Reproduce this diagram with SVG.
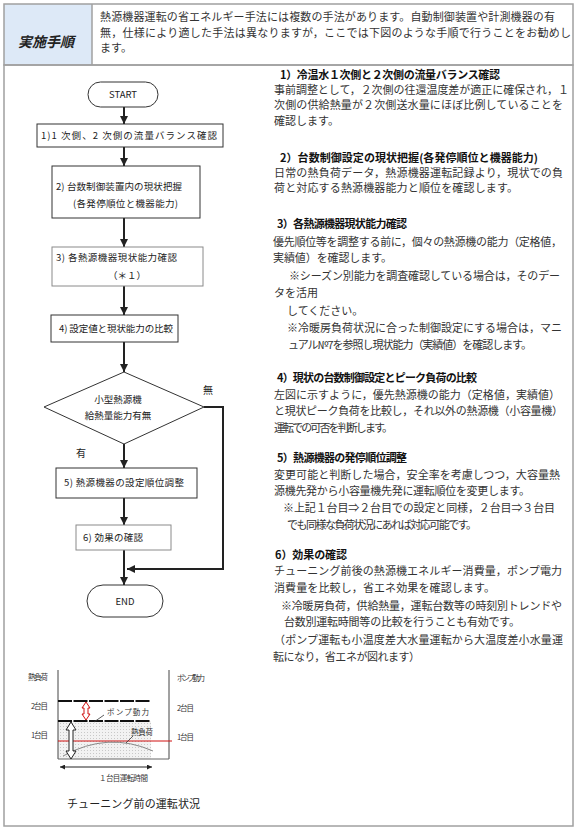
<svg xmlns="http://www.w3.org/2000/svg" width="580" height="831" viewBox="0 0 580 831">
<defs>
<style>
.t{font-family:"Noto Sans CJK JP","Noto Sans",sans-serif;fill:#222}
.b{font-size:11px;fill:#333}
.h{font-size:11px;font-weight:bold;fill:#111}
.f{font-size:9.5px;fill:#222}
.c{font-size:7.5px;fill:#333}
.box{fill:#fff;stroke:#333;stroke-width:1}
.boxl{fill:#fff;stroke:#8a8a8a;stroke-width:1}
.conn{stroke:#222;stroke-width:2;fill:none}
.frame{fill:none;stroke:#a0a0a0;stroke-width:1.5}
.dash{stroke:#111;stroke-width:2;stroke-dasharray:14 1.5;fill:none}
</style>
<marker id="ah" viewBox="0 0 10 10" refX="10" refY="5" markerWidth="8" markerHeight="8" markerUnits="userSpaceOnUse" orient="auto">
<path d="M0,0 L10,5 L0,10 z" fill="#222"/>
</marker>
<marker id="sa" viewBox="0 0 10 10" refX="10" refY="5" markerWidth="5" markerHeight="5" markerUnits="userSpaceOnUse" orient="auto-start-reverse">
<path d="M0,0 L10,5 L0,10 z" fill="#222"/>
</marker>
<pattern id="dots" width="3" height="3" patternUnits="userSpaceOnUse">
<rect width="3" height="3" fill="#f2f2f2"/>
<rect x="0" y="0" width="1" height="1" fill="#c8c8c8"/>
</pattern>
</defs>
<rect width="580" height="831" fill="#fff"/>

<!-- header -->
<g id="header">
<rect x="4" y="4" width="88" height="61" fill="#dde9f7"/>
<rect x="4" y="4" width="569" height="61" class="frame"/>
<line x1="92" y1="4" x2="92" y2="65" class="frame"/>
<text class="t" x="18" y="47" font-size="14" font-weight="bold" font-style="italic" fill="#111" textLength="56">実施手順</text>
<text class="t b" x="100" y="21" textLength="455" fill="#222">熱源機器運転の省エネルギー手法には複数の手法があります。自動制御装置や計測機器の有</text>
<text class="t b" x="100" y="37" textLength="471" fill="#222">無，仕様により適した手法は異なりますが，ここでは下図のような手順で行うことをお勧めし</text>
<text class="t b" x="100" y="52" fill="#222">ます。</text>
</g>
<rect x="4" y="65" width="569" height="761" class="frame"/>

<!-- connectors -->
<g id="connectors">
<line x1="124" y1="107" x2="124" y2="124" class="conn" marker-end="url(#ah)"/>
<line x1="124" y1="147" x2="124" y2="166" class="conn" marker-end="url(#ah)"/>
<line x1="124" y1="218" x2="124" y2="247" class="conn" marker-end="url(#ah)"/>
<line x1="124" y1="286" x2="124" y2="315" class="conn" marker-end="url(#ah)"/>
<line x1="124" y1="342" x2="124" y2="372" class="conn" marker-end="url(#ah)"/>
<line x1="124" y1="444" x2="124" y2="468" class="conn" marker-end="url(#ah)"/>
<line x1="124" y1="498" x2="124" y2="525" class="conn" marker-end="url(#ah)"/>
<line x1="124" y1="550" x2="124" y2="585" class="conn" marker-end="url(#ah)"/>
<polyline points="204,407 223,407 223,569 127,569" class="conn" marker-end="url(#ah)"/>
<text class="t" x="203" y="394" font-size="10" fill="#444">無</text>
<text class="t" x="76" y="457" font-size="10" fill="#444">有</text>
</g>

<!-- nodes -->
<g id="start">
<rect x="88" y="82" width="70" height="25" rx="12.5" class="box"/>
<text class="t f" x="123" y="98" text-anchor="middle">START</text>
</g>
<g id="step1">
<rect x="37" y="124" width="186" height="23" class="box"/>
<text class="t f" x="41" y="139" textLength="176">1)1 次側、2 次側の流量バランス確認</text>
</g>
<g id="step2">
<rect x="52" y="166" width="148" height="52" class="box"/>
<text class="t f" x="56" y="190" textLength="126">2) 台数制御装置内の現状把握</text>
<text class="t f" x="73" y="207" textLength="105">(各発停順位と機器能力)</text>
</g>
<g id="step3">
<rect x="52" y="247" width="151" height="39" class="boxl"/>
<text class="t f" x="56" y="261" textLength="121">3) 各熱源機器現状能力確認</text>
<text class="t f" x="127" y="279" text-anchor="middle">（＊１）</text>
</g>
<g id="step4">
<rect x="51" y="315" width="127" height="27" class="box"/>
<text class="t f" x="59" y="332" textLength="114">4) 設定値と現状能力の比較</text>
</g>
<g id="decision">
<polygon points="124,372 204,407 124,444 44,407" class="box"/>
<text class="t f" x="118" y="403" text-anchor="middle">小型熱源機</text>
<text class="t f" x="118" y="419" text-anchor="middle">給熱量能力有無</text>
</g>
<g id="step5">
<rect x="56" y="468" width="141" height="30" class="box"/>
<text class="t f" x="64" y="486" textLength="120">5) 熱源機器の設定順位調整</text>
</g>
<g id="step6">
<rect x="76" y="525" width="95" height="25" class="boxl"/>
<text class="t f" x="83" y="541" textLength="60">6) 効果の確認</text>
</g>
<g id="end">
<rect x="87" y="585" width="76" height="32" rx="16" class="box"/>
<text class="t f" x="125" y="605" text-anchor="middle">END</text>
</g>

<!-- chart -->
<g id="chart">
<rect x="58" y="721" width="93" height="38" fill="url(#dots)"/>
<line x1="58" y1="670" x2="58" y2="759" stroke="#444" stroke-width="1"/>
<line x1="169" y1="670" x2="169" y2="759" stroke="#444" stroke-width="1"/>
<line x1="58" y1="759" x2="169" y2="759" stroke="#666" stroke-width="1"/>
<line x1="58" y1="701" x2="151" y2="701" class="dash"/>
<line x1="58" y1="721" x2="151" y2="721" class="dash"/>
<line x1="58" y1="741" x2="172" y2="741" stroke="#d01010" stroke-width="1"/>
<path d="M63,756 Q108,731 153,751" fill="none" stroke="#888" stroke-width="1"/>
<polygon points="86,702 90,708 88,708 88,714 90,714 86,720 82,714 84,714 84,708 82,708" fill="#fff" stroke="#d01010" stroke-width="1"/>
<polygon points="71,722 76,730 73,730 73,751 76,751 71,759 66,751 69,751 69,730 66,730" fill="#fff" stroke="#222" stroke-width="1"/>
<line x1="94" y1="722" x2="104" y2="715" stroke="#333" stroke-width="0.8"/>
<line x1="126" y1="743" x2="133" y2="736" stroke="#333" stroke-width="0.8"/>
<line x1="60" y1="767" x2="152" y2="767" stroke="#222" stroke-width="1" marker-start="url(#sa)" marker-end="url(#sa)"/>
<text class="t c" x="28" y="680" textLength="20">熱負荷</text>
<text class="t c" x="31" y="709" textLength="17">2台目</text>
<text class="t c" x="31" y="738" textLength="17">1台目</text>
<text class="t c" x="107" y="715" font-size="8.5" textLength="42">ポンプ動力</text>
<text class="t c" x="131" y="735" font-size="8.5" textLength="22">熱負荷</text>
<text class="t c" x="177" y="681" textLength="28">ポンプ動力</text>
<text class="t c" x="177" y="711" textLength="17">2台目</text>
<text class="t c" x="177" y="740" textLength="17">1台目</text>
<text class="t c" x="99" y="781" textLength="49">１台目運転時間</text>
<text class="t" x="67" y="808" font-size="11" fill="#222" textLength="133">チューニング前の運転状況</text>
</g>

<!-- right text -->
<g id="description">
<text class="t h" x="280" y="79" textLength="220">1）冷温水１次側と２次側の流量バランス確認</text>
<text class="t b" x="274" y="94" textLength="295">事前調整として，２次側の往還温度差が適正に確保され，１</text>
<text class="t b" x="274" y="109" textLength="289">次側の供給熱量が２次側送水量にほぼ比例していることを</text>
<text class="t b" x="274" y="125">確認します。</text>

<text class="t h" x="280" y="162" textLength="258">2）台数制御設定の現状把握(各発停順位と機器能力)</text>
<text class="t b" x="274" y="177" textLength="289">日常の熱負荷データ，熱源機器運転記録より，現状での負</text>
<text class="t b" x="274" y="192" textLength="244">荷と対応する熱源機器能力と順位を確認します。</text>

<text class="t h" x="277" y="228" textLength="130">3）各熱源機器現状能力確認</text>
<text class="t b" x="273" y="246" textLength="289">優先順位等を調整する前に，個々の熱源機の能力（定格値，</text>
<text class="t b" x="273" y="262" textLength="119">実績値）を確認します。</text>
<text class="t b" x="289" y="280" textLength="271">※シーズン別能力を調査確認している場合は，そのデー</text>
<text class="t b" x="274" y="297">タを活用</text>
<text class="t b" x="287" y="315">してください。</text>
<text class="t b" x="287" y="332" textLength="275">※冷暖房負荷状況に合った制御設定にする場合は，マニ</text>
<text class="t b" x="288" y="349" textLength="244">ュアル№7を参照し現状能力（実績値）を確認します。</text>

<text class="t h" x="277" y="382" textLength="200">4）現状の台数制御設定とピーク負荷の比較</text>
<text class="t b" x="274" y="399" textLength="286">左図に示すように，優先熱源機の能力（定格値，実績値）</text>
<text class="t b" x="274" y="415" textLength="289">と現状ピーク負荷を比較し，それ以外の熱源機（小容量機）</text>
<text class="t b" x="274" y="432" textLength="119">運転での可否を判断します。</text>

<text class="t h" x="277" y="462" textLength="130">5）熱源機器の発停順位調整</text>
<text class="t b" x="274" y="479" textLength="286">変更可能と判断した場合，安全率を考慮しつつ，大容量熱</text>
<text class="t b" x="274" y="495" textLength="256">源機先発から小容量機先発に運転順位を変更します。</text>
<text class="t b" x="283" y="512" textLength="272">※上記１台目⇒２台目での設定と同様，２台目⇒３台目</text>
<text class="t b" x="287" y="529" textLength="190">でも同様な負荷状況にあれば対応可能です。</text>

<text class="t h" x="275" y="559" textLength="72">6）効果の確認</text>
<text class="t b" x="274" y="575" textLength="288">チューニング前後の熱源機エネルギー消費量，ポンプ電力</text>
<text class="t b" x="274" y="592" textLength="221">消費量を比較し，省エネ効果を確認します。</text>
<text class="t b" x="281" y="610" textLength="281">※冷暖房負荷，供給熱量，運転台数等の時刻別トレンドや</text>
<text class="t b" x="284" y="626" textLength="236">台数別運転時間等の比較を行うことも有効です。</text>
<text class="t b" x="274" y="644" textLength="289">（ポンプ運転も小温度差大水量運転から大温度差小水量運</text>
<text class="t b" x="273" y="661" textLength="147">転になり，省エネが図れます）</text>
</g>
</svg>
